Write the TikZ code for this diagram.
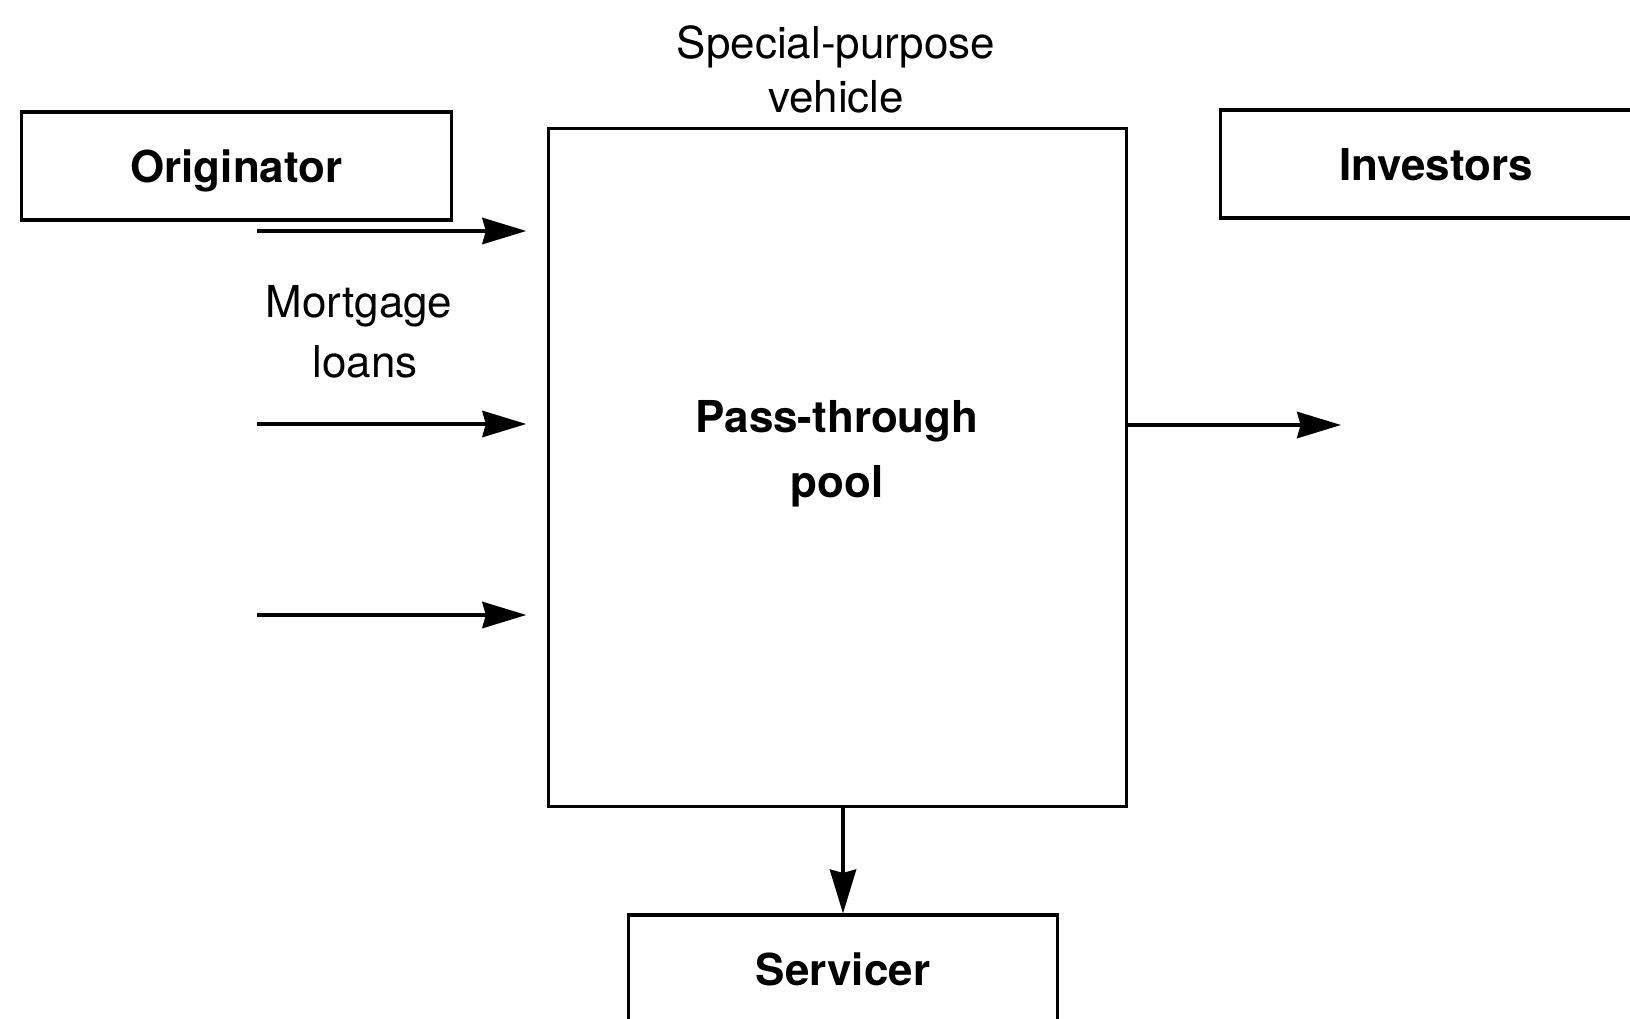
\documentclass[tikz,border=0pt]{standalone}
\usepackage{fontspec}
\setmainfont{TeX Gyre Heros}
\usetikzlibrary{arrows.meta}
\tikzset{
  entity/.style={draw, line width=0.9pt, minimum width=4.3cm, minimum height=1.08cm,
    text depth=0pt, font=\fontsize{12.5}{15}\selectfont\bfseries},
  flow/.style={-{Stealth[length=12.5pt,width=7.5pt,inset=1pt]}, line width=0.9pt},
  caption/.style={align=center, font=\fontsize{12.5}{16}\selectfont}
}
\begin{document}
\begin{tikzpicture}[x=0.01cm, y=-0.01cm]
  \useasboundingbox (0,0) rectangle (1630,1019);
  \node[entity] (orig) at (236.5,166) {Originator};
  \node[entity] (inv) at (1436,164) {Investors};
  \node[entity, minimum width=4.28cm] (serv) at (843,969) {Servicer};
  \node[draw, line width=0.9pt, minimum width=5.77cm, minimum height=6.77cm] (spv) at (837.5,467.5) {};
  \node[caption, font=\fontsize{12.5}{18.5}\selectfont\bfseries] (pool) at (837,454) {Pass-through\\pool};
  \node[caption, font=\fontsize{12.5}{15.4}\selectfont] (spvlbl) at (836,69) {Special-purpose\\vehicle};
  \node[caption, font=\fontsize{12.5}{17}\selectfont] (loans) at (359,332) {Mortgage\\\hspace*{0.12cm}loans};
  \coordinate (in1) at (257,231);
  \coordinate (in2) at (257,424);
  \coordinate (in3) at (257,615);
  \coordinate (out) at (1341,425);
  \draw[flow, shorten >=0.21cm] (in1) -- (in1 -| spv.west);
  \draw[flow, shorten >=0.21cm] (in2) -- (in2 -| spv.west);
  \draw[flow, shorten >=0.21cm] (in3) -- (in3 -| spv.west);
  \draw[flow] (out -| spv.east) -- (out);
  \draw[flow] (spv.south -| serv.north) -- (serv.north);
\end{tikzpicture}
\end{document}
